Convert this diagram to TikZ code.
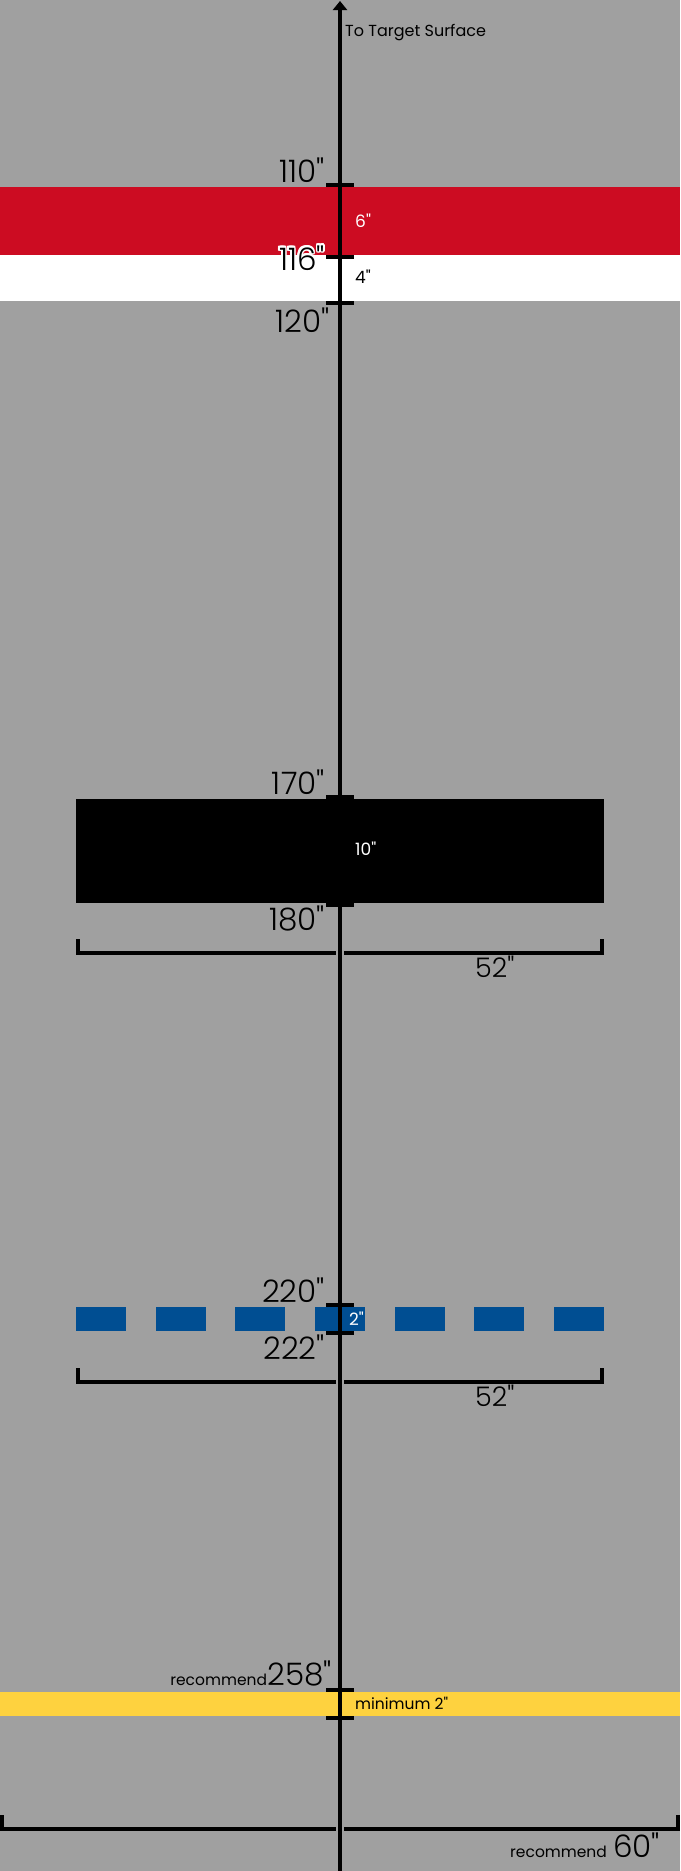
\documentclass[tikz,border=0pt]{standalone}
\usepackage{fontspec}
\setmainfont{Poppins}[UprightFont=* Light, Ligatures=TeXOff]
\newfontfamily\regfont{Poppins}[Ligatures=TeXOff]
\usetikzlibrary{arrows.meta,calc}
\definecolor{bggray}{RGB}{160,160,160}
\definecolor{bandred}{RGB}{204,12,34}
\definecolor{bandblue}{RGB}{0,78,146}
\definecolor{bandyellow}{RGB}{254,210,63}
\tikzset{
  tickline/.style={line width=4pt},
  bracket/.style={line width=4pt, line join=miter},
  biglab/.style={font=\fontsize{31}{31}\selectfont, inner sep=0pt, anchor=base east},
  widthlab/.style={font=\fontsize{27}{27}\selectfont, inner sep=0pt, anchor=base west},
  smalllab/.style={font=\regfont\fontsize{17}{17}\selectfont, inner sep=0pt, anchor=west},
  notelab/.style={font=\regfont\fontsize{15.5}{15.5}\selectfont, inner sep=0pt},
}
\begin{document}
\begin{tikzpicture}[x=1pt,y=-1pt]
      \fill[bggray] (0,0) rectangle (680,1871);
      \useasboundingbox (0,0) rectangle (680,1871);
      % bands
      \fill[bandred] (0,187) rectangle (680,255);
      \fill[white] (0,255) rectangle (680,301);
      \fill[black] (76,799) rectangle (604,903);
      \foreach \i in {0,...,6}
        \fill[bandblue] (76+\i*79.67,1307) rectangle +(50,24);
      \fill[bandyellow] (0,1692) rectangle (680,1716);
      % brackets
      \draw[bracket] (78,939) -- (78,953) -- (336,953);
      \draw[bracket] (344,953) -- (602,953) -- (602,939);
      \draw[bracket] (78,1368) -- (78,1382) -- (336,1382);
      \draw[bracket] (344,1382) -- (602,1382) -- (602,1368);
      \draw[bracket] (2,1815) -- (2,1829) -- (336,1829);
      \draw[bracket] (344,1829) -- (678,1829) -- (678,1815);
      % axis
      \coordinate (bottom) at (340,1871);
      \coordinate (top) at (340,1);
      \draw[line width=4pt, -{Triangle[width=14pt,length=9pt]}] (bottom) -- (top);
      \foreach \y in {185,257,303,797,905,1305,1333,1690,1718}
        \draw[tickline] (326,\y) -- (354,\y);
      % labels
      \node[notelab, anchor=base west, font=\regfont\fontsize{16}{16}\selectfont] (target) at (345,36) {To Target Surface};
      \node[biglab] (l110) at (325,182) {110"};
      \foreach \a in {0,22.5,...,337.5}
        \node[biglab, text=white] at ($(325,270)+(\a:1.6)$) {116"};
      \node[biglab] (l116) at (325,270) {116"};
      \node[biglab] (l120) at (330,332) {120"};
      \node[biglab] (l170) at (325,794) {170"};
      \node[biglab] (l180) at (325,930) {180"};
      \node[biglab] (l220) at (325,1302) {220"};
      \node[biglab] (l222) at (325,1359) {222"};
      \node[biglab] (l258) at (332,1685) {258"};
      \node[notelab, anchor=base east] (rec258) at (l258.base west) {recommend};
      \node[smalllab, text=white] (w6) at (355,221) {6"};
      \node[smalllab] (w4) at (355,277) {4"};
      \node[smalllab, text=white] (w10) at (355,849) {10"};
      \node[smalllab, text=white] (w2) at (349,1319) {2"};
      \node[notelab, anchor=base west] (wmin) at (355,1709) {minimum 2"};
      \node[widthlab] (span1) at (475,977) {52"};
      \node[widthlab] (span2) at (475,1406) {52"};
      \node[notelab, anchor=base west] (rec60) at (510,1857) {recommend};
      \node[biglab, anchor=base west] (span3) at (613,1857) {60"};
    \end{tikzpicture}
\end{document}
